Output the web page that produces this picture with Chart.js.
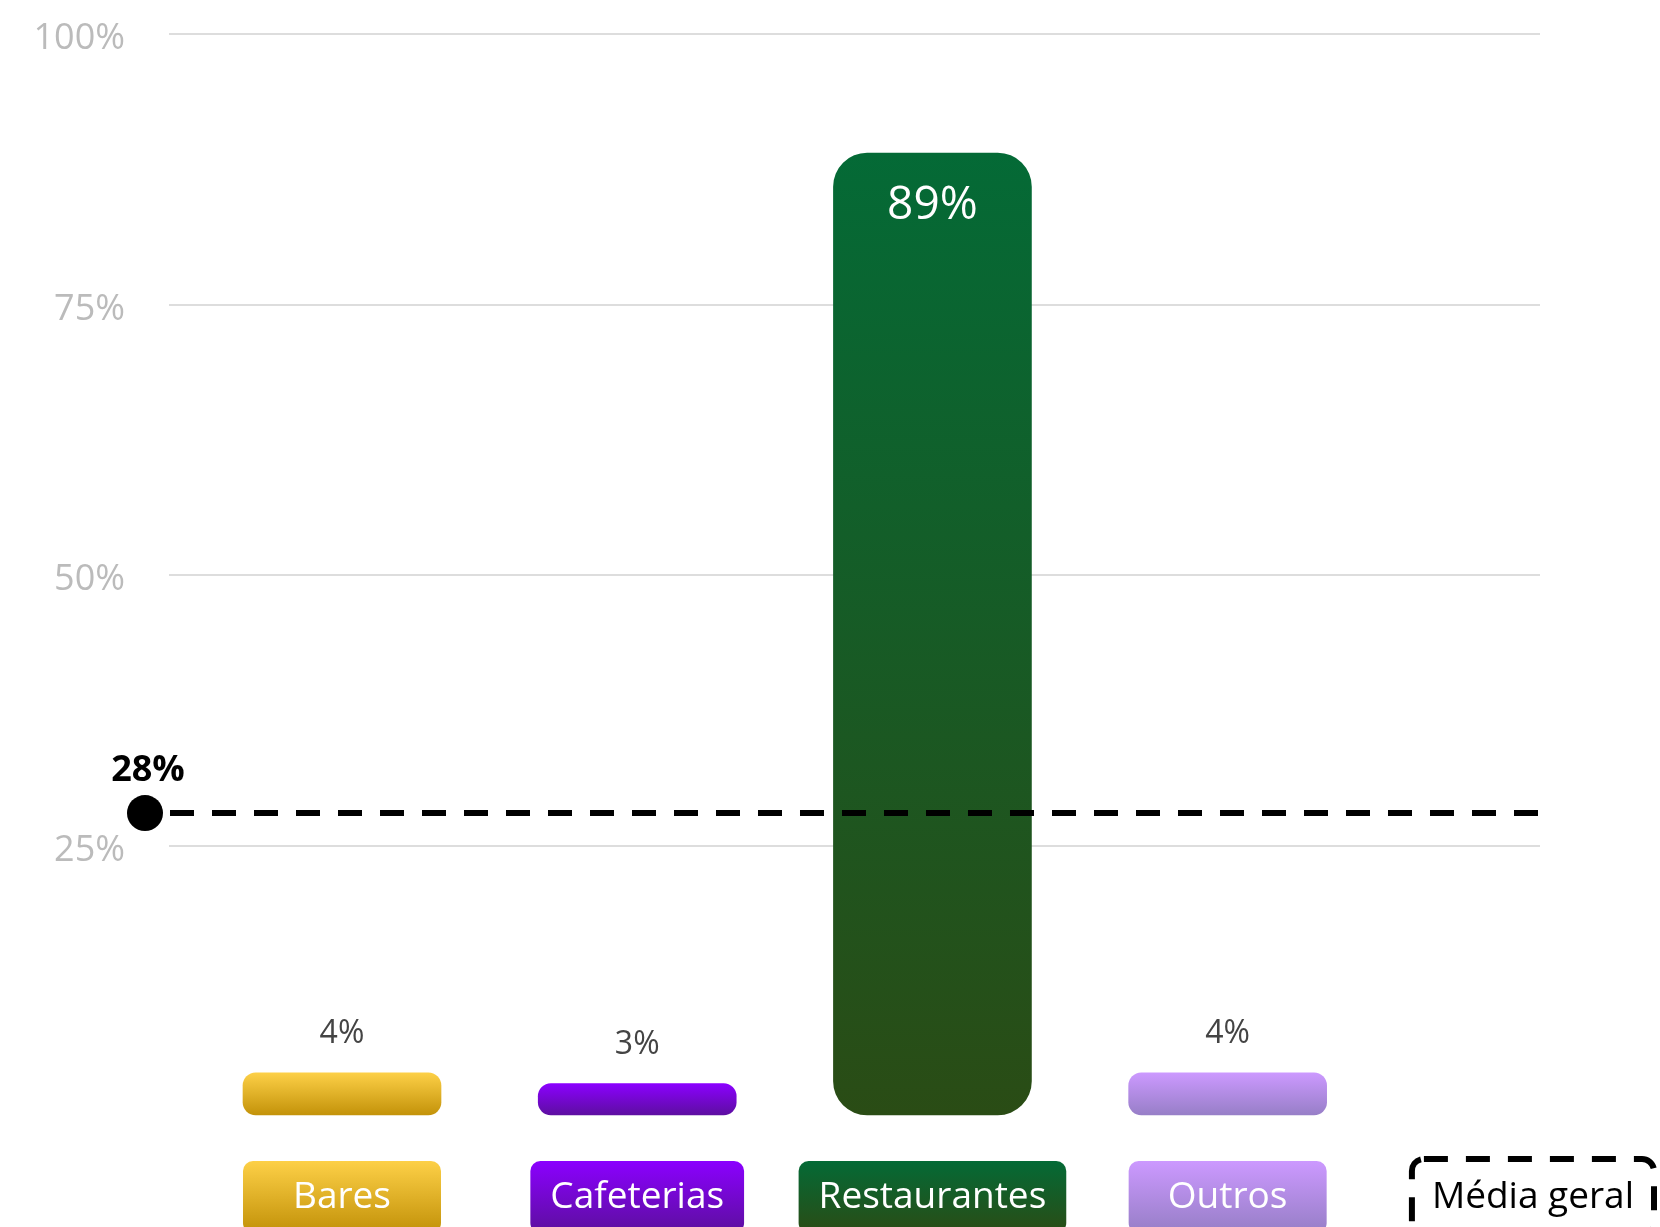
<!DOCTYPE html>
<html lang="pt-BR">
<head>
<meta charset="utf-8">
<title>Participação por tipo de estabelecimento</title>
<script src="https://cdn.jsdelivr.net/npm/chart.js@4.4.1/dist/chart.umd.min.js"></script>
<style>
  html, body { margin: 0; padding: 0; background: #fff; }
  #grafico { display: block; }
</style>
</head>
<body>
<canvas id="grafico" width="1660" height="1227"></canvas>
<script>
const categorias = ['Bares', 'Cafeterias', 'Restaurantes', 'Outros'];
const valores = [4, 3, 89, 4];
const mediaGeral = 28;
const marcasY = [0, 25, 50, 75, 100];
const rotuloMedia = 'Média geral';

const coresTopo = ['#fdd047', '#8b00ff', '#046a36', '#cc99ff'];
const coresBase = ['#c29108', '#5c0f9e', '#2a4c15', '#967ec6'];

const FONTE = '"Open Sans", "Noto Sans", sans-serif';

function gradiente(ctx, topo, base, i) {
    const g = ctx.createLinearGradient(0, topo, 0, base);
    g.addColorStop(0, coresTopo[i]);
    g.addColorStop(1, coresBase[i]);
    return g;
}

function caixaArredondada(ctx, x, y, w, h, r) {
    ctx.beginPath();
    ctx.roundRect(x, y, w, h, r);
}

// rótulos de valor, linha da média e caixas das categorias
const extras = {
    id: 'extras',
    afterDatasetsDraw(chart) {
        const { ctx, chartArea, scales } = chart;
        const xs = scales.x, ys = scales.y;
        const base = ys.getPixelForValue(0);

        ctx.save();
        ctx.textAlign = 'center';
        ctx.textBaseline = 'middle';

        // valores das barras
        valores.forEach((v, i) => {
            const cx = xs.getPixelForValue(i);
            const topo = ys.getPixelForValue(v);
            if (v > 20) {
                ctx.fillStyle = '#ffffff';
                ctx.font = '46px ' + FONTE;
                ctx.fillText(v + '%', cx, topo + 53);
            } else {
                ctx.fillStyle = '#444444';
                ctx.font = '32px ' + FONTE;
                ctx.fillText(v + '%', cx, topo - 39);
            }
        });

        // linha tracejada da média geral
        const ym = ys.getPixelForValue(mediaGeral);
        const xPonto = chartArea.left - 24;
        ctx.strokeStyle = '#000000';
        ctx.lineWidth = 6;
        ctx.setLineDash([24, 18]);
        ctx.beginPath();
        ctx.moveTo(chartArea.left + 1, ym);
        ctx.lineTo(chartArea.right, ym);
        ctx.stroke();
        ctx.setLineDash([]);

        ctx.fillStyle = '#000000';
        ctx.beginPath();
        ctx.arc(xPonto, ym, 18, 0, Math.PI * 2);
        ctx.fill();

        ctx.font = 'bold 36px ' + FONTE;
        ctx.fillText(mediaGeral + '%', xPonto + 3, ym - 42);

        // caixas com o nome de cada categoria
        const topoCaixa = base + 45;
        const altCaixa = 72;
        ctx.font = '37px ' + FONTE;
        categorias.forEach((nome, i) => {
            const cx = xs.getPixelForValue(i);
            const w = Math.max(ctx.measureText(nome).width + 40, 198);
            caixaArredondada(ctx, cx - w / 2, topoCaixa, w, altCaixa, 10);
            ctx.fillStyle = gradiente(ctx, topoCaixa, topoCaixa + altCaixa, i);
            ctx.fill();
            ctx.fillStyle = '#ffffff';
            ctx.fillText(nome, cx, topoCaixa + 36);
        });

        // legenda da média
        const wm = ctx.measureText(rotuloMedia).width + 40;
        const xm = chart.width - 6 - wm;
        caixaArredondada(ctx, xm, topoCaixa - 2, wm, altCaixa + 4, 12);
        ctx.fillStyle = '#ffffff';
        ctx.fill();
        ctx.setLineDash([24, 18]);
        ctx.lineWidth = 6;
        ctx.strokeStyle = '#000000';
        ctx.stroke();
        ctx.setLineDash([]);
        ctx.fillStyle = '#000000';
        ctx.fillText(rotuloMedia, xm + wm / 2, topoCaixa + 36);

        ctx.restore();
    }
};

const ctx = document.getElementById('grafico');

new Chart(ctx, {
    type: 'bar',
    data: {
        datasets: [{
            label: 'Participação',
            data: valores.map((v, i) => ({ x: i, y: v })),
            backgroundColor: function (context) {
                const i = context.dataIndex;
                const { ctx, chartArea, scales } = context.chart;
                if (!chartArea) return coresTopo[i];
                return gradiente(ctx, scales.y.getPixelForValue(valores[i]), scales.y.getPixelForValue(0), i);
            },
            borderWidth: 0,
            borderRadius: function (context) {
                return valores[context.dataIndex] > 20 ? 34 : 13;
            },
            borderSkipped: false,
            barThickness: 198
        }]
    },
    options: {
        responsive: false,
        animation: false,
        layout: {
            padding: { top: 34, right: 120, bottom: 111, left: 0 }
        },
        plugins: {
            legend: { display: false },
            tooltip: { enabled: false }
        },
        scales: {
            x: {
                type: 'linear',
                display: false,
                offset: false,
                bounds: 'data',
                min: -0.586,
                max: 4.058
            },
            y: {
                min: marcasY[0],
                max: marcasY[marcasY.length - 1],
                afterFit: function (scale) {
                    scale.width = 169;
                    scale.paddingTop = 0;
                    scale.paddingBottom = 0;
                },
                afterBuildTicks: function (scale) {
                    scale.ticks = marcasY.map(v => ({ value: v }));
                },
                border: { display: false },
                grid: {
                    drawTicks: false,
                    lineWidth: 2,
                    color: function (c) {
                        return c.tick && c.tick.value === 0 ? 'rgba(0,0,0,0)' : '#dddddd';
                    }
                },
                ticks: {
                    padding: 44,
                    labelOffset: 5,
                    color: '#bbbbbb',
                    font: { family: FONTE, size: 36 },
                    callback: function (value) {
                        return value === 0 ? '' : value + '%';
                    }
                }
            }
        }
    },
    plugins: [extras]
});
</script>
</body>
</html>
